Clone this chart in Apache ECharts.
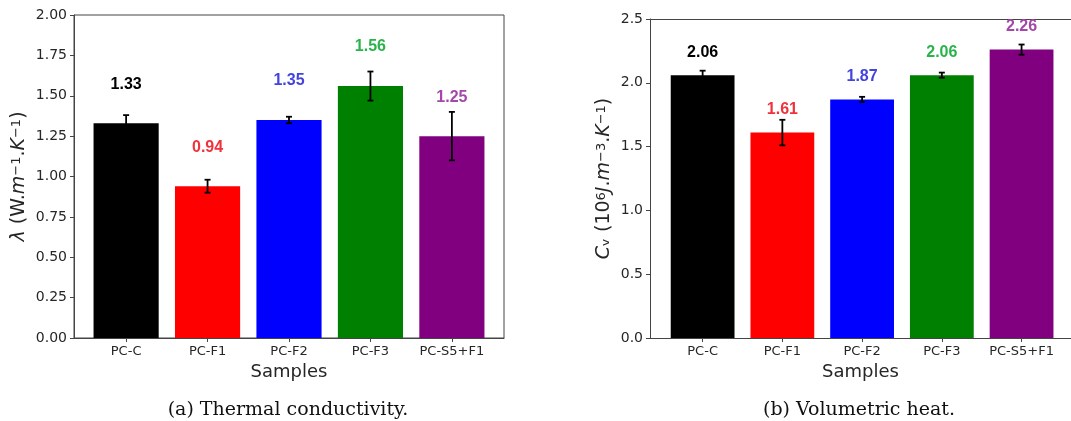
<!DOCTYPE html>
<html>
<head>
<meta charset="utf-8">
<script src="https://cdn.jsdelivr.net/npm/echarts@6/dist/echarts.min.js"></script>
<style>
html,body{margin:0;padding:0;background:#fff;}
#chart{width:1071px;height:421px;}
</style>
</head>
<body>
<div id="chart"></div>
<script>
// ---- data ----
const categories = ['PC-C', 'PC-F1', 'PC-F2', 'PC-F3', 'PC-S5+F1'];
const conductivity = [1.33, 0.94, 1.35, 1.56, 1.25];
const conductivityErr = [0.05, 0.04, 0.02, 0.09, 0.15];
const volumetricHeat = [2.06, 1.61, 1.87, 2.06, 2.26];
const volumetricHeatErr = [0.035, 0.10, 0.02, 0.02, 0.04];
const barColors = ['#000000', '#ff0000', '#0000ff', '#008000', '#800080'];
const labelColors = ['#000000', '#f0323c', '#4444dd', '#2ab34a', '#a347a8'];

const chart = echarts.init(document.getElementById('chart'));

function barData(vals) {
  return vals.map((v, i) => ({
    value: [i, v],
    itemStyle: { color: barColors[i] },
    label: { color: labelColors[i] }
  }));
}
function errData(vals, errs) {
  return vals.map((v, i) => [i, v, errs[i]]);
}
function errRender(params, api) {
  const x = api.value(0), v = api.value(1), e = api.value(2);
  const lo = api.coord([x, v - e]);
  const hi = api.coord([x, v + e]);
  const cap = 3;
  const st = { stroke: '#000', lineWidth: 1.8 };
  return {
    type: 'group',
    children: [
      { type: 'line', shape: { x1: hi[0], y1: hi[1], x2: lo[0], y2: lo[1] }, style: st },
      { type: 'line', shape: { x1: hi[0] - cap, y1: hi[1], x2: hi[0] + cap, y2: hi[1] }, style: st },
      { type: 'line', shape: { x1: lo[0] - cap, y1: lo[1], x2: lo[0] + cap, y2: lo[1] }, style: st }
    ]
  };
}

const axisTextColor = '#262626';
const frameColor = '#444';

function xAxisCfg(gridIndex, min, max) {
  return {
    type: 'value', gridIndex, min, max,
    name: 'Samples', nameLocation: 'middle', nameGap: 25,
    nameTextStyle: { color: axisTextColor, fontSize: 18, fontFamily: 'DejaVu Sans', verticalAlign: 'top' },
    axisLine: { show: true, onZero: false, lineStyle: { color: frameColor, width: 1 } },
    axisTick: { show: true, length: 4, lineStyle: { color: frameColor }, customValues: [0, 1, 2, 3, 4] },
    axisLabel: {
      color: axisTextColor, fontSize: 13, fontFamily: 'DejaVu Sans', margin: 7,
      customValues: [0, 1, 2, 3, 4],
      formatter: v => categories[Math.round(v)]
    },
    splitLine: { show: false }
  };
}

function yAxisCfg(gridIndex, max, interval, decimals, nameRich, nameGap) {
  return {
    type: 'value', gridIndex, min: 0, max, interval,
    name: nameRich, nameLocation: 'middle', nameGap, nameRotate: 90,
    nameTextStyle: {
      color: axisTextColor, fontSize: 19, fontFamily: 'DejaVu Sans',
      rich: {
        n: { fontSize: 19, fontFamily: 'DejaVu Sans', color: axisTextColor },
        i: { fontSize: 19, fontFamily: 'DejaVu Sans', fontStyle: 'italic', color: axisTextColor },
        s: { fontSize: 13, fontFamily: 'DejaVu Sans', color: axisTextColor, verticalAlign: 'top', lineHeight: 13, padding: [0, 0, 9, 0] }
      }
    },
    axisLine: { show: true, onZero: false, lineStyle: { color: frameColor, width: 1 } },
    axisTick: { show: true, length: 4, lineStyle: { color: frameColor } },
    axisLabel: { margin: 7, color: axisTextColor, fontSize: 14, fontFamily: 'DejaVu Sans', formatter: v => v.toFixed(decimals) },
    splitLine: { show: false }
  };
}

const labelCommon = { show: true, position: 'top', fontWeight: 'bold', fontSize: 16, fontFamily: 'Liberation Sans' };
const topFrame = {
  type: 'value', gridIndex: 1, position: 'top', min: 0, max: 1,
  axisLine: { show: true, onZero: false, lineStyle: { color: frameColor, width: 1 } },
  axisTick: { show: false }, axisLabel: { show: false }, splitLine: { show: false }
};

chart.setOption({
  animation: false,
  backgroundColor: '#ffffff',
  title: [
    { text: '(a) Thermal conductivity.', left: 283, top: 396, textAlign: 'center',
      textStyle: { fontFamily: 'DejaVu Serif', fontWeight: 'normal', fontSize: 19, color: '#111' } },
    { text: '(b) Volumetric heat.', left: 854, top: 396, textAlign: 'center',
      textStyle: { fontFamily: 'DejaVu Serif', fontWeight: 'normal', fontSize: 19, color: '#111' } }
  ],
  grid: [
    { left: 74, top: 15, width: 430, height: 323, show: true, borderColor: frameColor, borderWidth: 1, backgroundColor: 'transparent' },
    { left: 650, top: 19, right: 0, height: 319 }
  ],
  xAxis: [xAxisCfg(0, -0.64, 4.64), xAxisCfg(1, -0.66, 4.62), topFrame],
  yAxis: [
    yAxisCfg(0, 2, 0.25, 2, '{i|λ}{n| (W.}{i|m}{s|−1}{n|.}{i|K}{s|−1}{n|)}', 39),
    yAxisCfg(1, 2.5, 0.5, 1, '{i|C}{n|ᵥ (10}{s|6}{i|J}{n|.}{i|m}{s|−3}{n|.}{i|K}{s|−1}{n|)}', 36)
  ],
  series: [
    {
      type: 'bar', xAxisIndex: 0, yAxisIndex: 0, barWidth: '80%',
      data: barData(conductivity),
      label: Object.assign({ distance: 31, formatter: p => p.value[1].toFixed(2) }, labelCommon)
    },
    {
      type: 'custom', xAxisIndex: 0, yAxisIndex: 0, renderItem: errRender,
      encode: { x: 0, y: 1 }, data: errData(conductivity, conductivityErr), z: 5
    },
    {
      type: 'bar', xAxisIndex: 1, yAxisIndex: 1, barWidth: '80%',
      data: barData(volumetricHeat),
      label: Object.assign({ distance: 15, formatter: p => p.value[1].toFixed(2) }, labelCommon)
    },
    {
      type: 'custom', xAxisIndex: 1, yAxisIndex: 1, renderItem: errRender,
      encode: { x: 0, y: 1 }, data: errData(volumetricHeat, volumetricHeatErr), z: 5
    }
  ]
});
</script>
</body>
</html>
